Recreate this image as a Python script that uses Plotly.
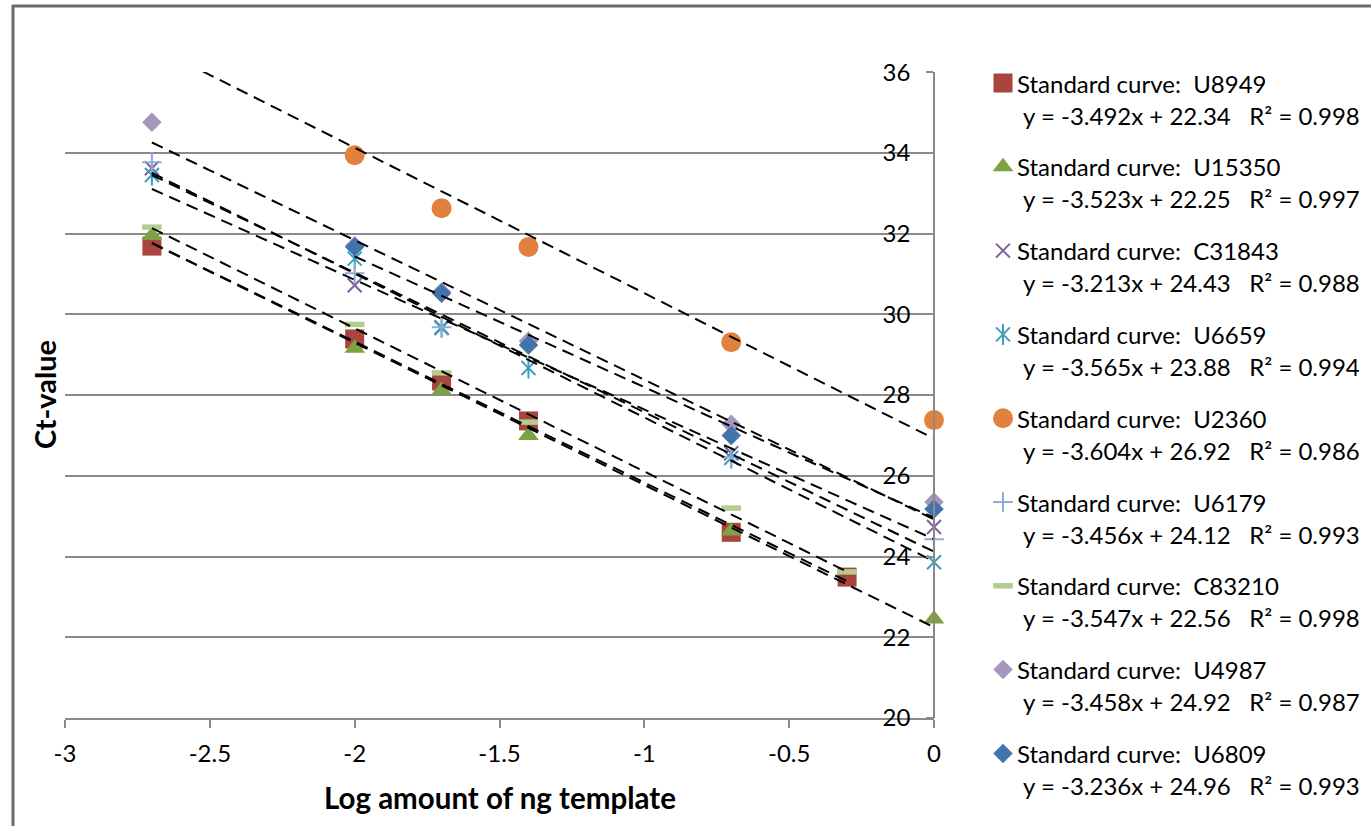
import plotly.graph_objects as go

# ---- data ---------------------------------------------------------------
x_u8949 = [-2.7, -2.0, -1.7, -1.4, -0.7, -0.3]
ct_u8949 = [31.69, 29.39, 28.35, 27.36, 24.60, 23.49]

x_u15350 = [-2.7, -2.0, -1.7, -1.4, -0.7, 0.0]
ct_u15350 = [31.95, 29.16, 28.12, 27.00, 24.63, 22.45]

x_c31843 = [-2.7, -2.0, -1.7, -0.7, 0.0]
ct_c31843 = [33.62, 30.72, 29.66, 26.56, 24.73]

x_u6659 = [-2.7, -2.0, -1.7, -1.4, -0.7, 0.0]
ct_u6659 = [33.45, 31.38, 29.68, 28.67, 26.44, 23.86]

x_u2360 = [-2.7, -2.0, -1.7, -1.4, -0.7, 0.0]
ct_u2360 = [36.90, 33.94, 32.63, 31.67, 29.31, 27.38]

x_u6179 = [-2.7, -2.0, -1.7, -0.7, 0.0]
ct_u6179 = [33.77, 31.02, 29.68, 26.46, 24.43]

x_c83210 = [-2.7, -2.0, -1.7, -1.4, -0.7, -0.3]
ct_c83210 = [32.16, 29.75, 28.55, 27.33, 25.20, 23.62]

x_u4987 = [-2.7, -2.0, -1.7, -1.4, -0.7, 0.0]
ct_u4987 = [34.76, 31.70, 30.55, 29.34, 27.28, 25.35]

x_u6809 = [-2.0, -1.7, -1.4, -0.7, 0.0]
ct_u6809 = [31.67, 30.52, 29.24, 27.00, 25.18]

sample_names = ["U8949", "U15350", "C31843", "U6659", "U2360",
                "U6179", "C83210", "U4987", "U6809"]
slopes = [-3.492, -3.523, -3.213, -3.565, -3.604, -3.456, -3.547, -3.458, -3.236]
intercepts = [22.34, 22.25, 24.43, 23.88, 26.92, 24.12, 22.56, 24.92, 24.96]
r_squared = [0.998, 0.997, 0.988, 0.994, 0.986, 0.993, 0.998, 0.987, 0.993]

x_tick_values = [-3, -2.5, -2, -1.5, -1, -0.5, 0]
x_tick_labels = ["-3", "-2.5", "-2", "-1.5", "-1", "-0.5", "0"]
y_tick_values = [20, 22, 24, 26, 28, 30, 32, 34, 36]
y_tick_labels = ["20", "22", "24", "26", "28", "30", "32", "34", "36"]

xs_all = [x_u8949, x_u15350, x_c31843, x_u6659, x_u2360,
          x_u6179, x_c83210, x_u4987, x_u6809]
ys_all = [ct_u8949, ct_u15350, ct_c31843, ct_u6659, ct_u2360,
          ct_u6179, ct_c83210, ct_u4987, ct_u6809]

# ---- styling ------------------------------------------------------------
W, H = 1371, 826
FONT = "Lato"
GRID = "#8a8a8a"
TXT = 24
Y_MIN, Y_MAX = 20, 36

# marker layers per series: (symbol, size, fill colour, outline colour, outline width)
marker_styles = [
    [("square", 19, "#A9443F", "#A9443F", 0)],
    [("triangle-up", 18, "#7FA142", "#7FA142", 0)],
    [("x-thin-open", 14, "#7D60A0", "#7D60A0", 2)],
    [("x-thin-open", 14, "#3D9FB9", "#3D9FB9", 2),
     ("line-ns-open", 15, "#3D9FB9", "#3D9FB9", 2)],
    [("circle", 20, "#E0823D", "#E0823D", 0)],
    [("cross-thin-open", 14, "#8EAAD8", "#8EAAD8", 2)],
    [("line-ew-open", 14, "#B3CD8F", "#B3CD8F", 5.5)],
    [("diamond", 15, "#A596BD", "#A596BD", 0)],
    [("diamond", 15, "#4373AB", "#4373AB", 0)],
]


def px_x(p):
    return p / W


def px_y(p):
    return 1 - p / H


fig = go.Figure()

# data markers: points above/below the value-axis range are not drawn,
# points on the plot edge are drawn whole
for xs, ys, layers in zip(xs_all, ys_all, marker_styles):
    shown = [(x, y) for x, y in zip(xs, ys) if Y_MIN <= y <= Y_MAX]
    sx = [p[0] for p in shown]
    sy = [p[1] for p in shown]
    for sym, size, fill, outline, lw in layers:
        fig.add_trace(go.Scatter(
            x=sx, y=sy, mode="markers", showlegend=False, hoverinfo="skip",
            cliponaxis=False,
            marker=dict(symbol=sym, size=size, color=fill,
                        line=dict(color=outline, width=lw)),
            xaxis="x", yaxis="y"))

# linear trendlines from the fitted equations
for xs, m, b in zip(xs_all, slopes, intercepts):
    x0, x1 = min(xs), max(xs)
    fig.add_trace(go.Scatter(
        x=[x0, x1], y=[m * x0 + b, m * x1 + b], mode="lines",
        showlegend=False, hoverinfo="skip",
        line=dict(color="black", width=2, dash="12px,7px"),
        xaxis="x", yaxis="y"))

# legend: markers on a helper subplot, text as annotations
ROW0, ROW_STEP = 83.0, 83.8
n = len(sample_names)
row_idx = list(range(n))
for i, layers in enumerate(marker_styles):
    for sym, size, fill, outline, lw in layers:
        fig.add_trace(go.Scatter(
            x=[0.5], y=[row_idx[i]], mode="markers", showlegend=False,
            hoverinfo="skip", cliponaxis=False,
            marker=dict(symbol=sym, size=size, color=fill,
                        line=dict(color=outline, width=lw)),
            xaxis="x2", yaxis="y2"))

annotations = []
NB = "\u00a0"
for i, name in enumerate(sample_names):
    yrow = ROW0 + ROW_STEP * i
    annotations.append(dict(
        x=px_x(1015), y=px_y(yrow), xref="paper", yref="paper",
        xanchor="left", yanchor="middle", showarrow=False,
        text=f"Standard curve:{NB}{NB}{name}",
        font=dict(family=FONT, size=TXT, color="black")))
    annotations.append(dict(
        x=px_x(1021), y=px_y(yrow + 32), xref="paper", yref="paper",
        xanchor="left", yanchor="middle", showarrow=False,
        text=(f"y = {slopes[i]:.3f}x + {intercepts[i]:.2f}{NB}{NB}{NB}"
              f"R² = {r_squared[i]:.3f}"),
        font=dict(family=FONT, size=TXT, color="black")))

# axis titles
annotations.append(dict(
    x=px_x(500), y=px_y(797), xref="paper", yref="paper",
    xanchor="center", yanchor="middle", showarrow=False,
    text="<b>Log amount of ng template</b>",
    font=dict(family=FONT, size=29.5, color="black")))
annotations.append(dict(
    x=px_x(44), y=px_y(395), xref="paper", yref="paper",
    xanchor="center", yanchor="middle", showarrow=False, textangle=-90,
    text="<b>Ct-value</b>",
    font=dict(family=FONT, size=29, color="black")))

# chart-area frame (left and top edges)
shapes = [
    dict(type="line", xref="paper", yref="paper",
         x0=px_x(13), x1=px_x(13), y0=px_y(5), y1=px_y(830),
         line=dict(color="#6b6b6b", width=3)),
    dict(type="line", xref="paper", yref="paper",
         x0=px_x(12), x1=px_x(1380), y0=px_y(6), y1=px_y(6),
         line=dict(color="#6b6b6b", width=3)),
]

plot_l, plot_r, plot_t, plot_b = 65, 934, 72, 718
y2_top = -ROW0 / ROW_STEP
y2_bot = (H - ROW0) / ROW_STEP

fig.update_layout(
    width=W, height=H, template="none",
    margin=dict(l=0, r=0, t=0, b=0, pad=0),
    paper_bgcolor="white", plot_bgcolor="white",
    font=dict(family=FONT, size=TXT, color="black"),
    showlegend=False,
    xaxis=dict(
        domain=[plot_l / W, plot_r / W], range=[-3, 0], anchor="y",
        tickmode="array", tickvals=x_tick_values, ticktext=x_tick_labels,
        ticks="outside", ticklen=8, tickwidth=1.5, tickcolor=GRID,
        showline=True, linecolor=GRID, linewidth=1.5,
        showgrid=False, zeroline=False, automargin=False,
        tickfont=dict(family=FONT, size=TXT, color="black"),
        ticklabelstandoff=5),
    # value axis crosses the category axis at x = 0 (right edge of the plot)
    yaxis=dict(
        domain=[(H - plot_b) / H, (H - plot_t) / H], range=[Y_MIN, Y_MAX + 0.003],
        anchor="free", position=plot_r / W, side="left",
        tickmode="array", tickvals=y_tick_values, ticktext=y_tick_labels,
        ticks="outside", ticklen=7, tickwidth=1.5, tickcolor=GRID,
        showline=True, linecolor=GRID, linewidth=1.5,
        showgrid=True, gridcolor=GRID, gridwidth=1.5, zeroline=False,
        automargin=False, ticklabelstandoff=11,
        tickfont=dict(family=FONT, size=TXT, color="black")),
    xaxis2=dict(domain=[990 / W, 1016 / W], range=[0, 1], anchor="y2",
                visible=False, fixedrange=True),
    yaxis2=dict(domain=[0, 1], range=[y2_bot, y2_top], anchor="x2",
                visible=False, fixedrange=True),
    annotations=annotations, shapes=shapes,
)

fig.write_html("out.html")
